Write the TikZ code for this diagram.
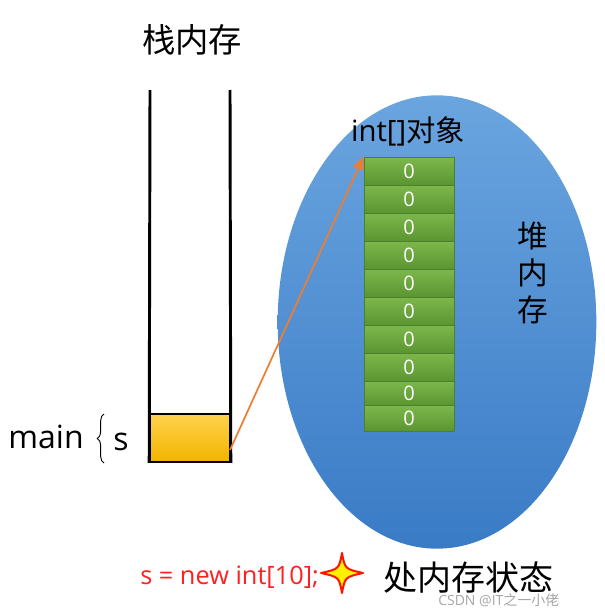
\documentclass[tikz,border=0pt]{standalone}
\usepackage{fontspec}
\setmainfont{Noto Sans CJK SC}
\newfontfamily\latinfont{Open Sans}
\usetikzlibrary{shapes.geometric,arrows.meta,decorations.pathreplacing}
\definecolor{heapTop}{HTML}{6AA5DF}
\definecolor{heapBot}{HTML}{3A7BC6}
\definecolor{cellTop}{HTML}{7DB84C}
\definecolor{cellBot}{HTML}{5A9531}
\definecolor{cellLine}{HTML}{4E7F2C}
\definecolor{boxTop}{HTML}{FFD24A}
\definecolor{boxBot}{HTML}{F2B400}
\definecolor{arrowOrange}{HTML}{ED7D31}
\definecolor{codeRed}{HTML}{FF2020}
\tikzset{
  cell/.style={draw=cellLine, line width=0.6pt, top color=cellTop, bottom color=cellBot,
    minimum width=67.5pt, inner sep=0pt, text=white, font=\latinfont\fontsize{15}{15}\selectfont},
  stackline/.style={line width=2.2pt, black},
  title/.style={font=\fontsize{25}{28}\selectfont, inner sep=0pt}
}
\begin{document}
\begin{tikzpicture}[x=0.75pt,y=-0.75pt]
\useasboundingbox (0,0) rectangle (604,610);
% title
\node[title] (stacktitle) at (192,40) {栈内存};
% heap ellipse
\node[ellipse, inner sep=0pt, minimum width=239pt, minimum height=340pt,
  top color=heapTop, bottom color=heapBot, draw=none] (heap) at (437,322) {};
% heap label
\node[font=\fontsize{23}{27.75}\selectfont, align=center, inner sep=0pt] (heaplabel) at (533,273) {堆\\内\\存};
\node[font=\fontsize{22}{24}\selectfont, inner sep=0pt] (objtitle) at (408,131) {{\latinfont int[]}对象};
% cells
\node[cell, minimum height=21pt] (c0) at (409,171) {0};
\node[cell, minimum height=21pt] (c1) at (409,199) {0};
\node[cell, minimum height=21pt] (c2) at (409,227) {0};
\node[cell, minimum height=21pt] (c3) at (409,255) {0};
\node[cell, minimum height=21pt] (c4) at (409,283) {0};
\node[cell, minimum height=21pt] (c5) at (409,311) {0};
\node[cell, minimum height=21pt] (c6) at (409,339) {0};
\node[cell, minimum height=21pt] (c7) at (409,367) {0};
\node[cell, minimum height=18pt] (c8) at (409,393) {0};
\node[cell, minimum height=19.5pt] (c9) at (409,418) {0};
% stack
\node[draw=black, line width=1.2pt, top color=boxTop, bottom color=boxBot,
  minimum width=60pt, minimum height=36pt, inner sep=0pt] (sbox) at (190,438) {};
\coordinate (stl) at (150,90);
\coordinate (str) at (230,90);
\draw[stackline] (stl) -- (sbox.south west);
\draw[stackline] (str) -- (sbox.south east);
% main { s
\node[font=\latinfont\fontsize{24}{26}\selectfont, inner sep=0pt, anchor=base east] (mainlbl) at (84,448) {main};
\coordinate (bb) at (104,463);
\coordinate (bt) at (104,414);
\draw[line width=0.7pt, decorate, decoration={brace, amplitude=5pt}] (bb) -- (bt);
\node[font=\latinfont\fontsize{24}{26}\selectfont, inner sep=0pt, anchor=base] (slbl) at (121,450) {s};
% arrow
\coordinate (astart) at (230,450);
\draw[arrowOrange, line width=1.3pt, -{Triangle[length=10pt,width=8pt]}] (astart) -- (c0.north west);
% bottom text
\node[font=\latinfont\fontsize{19}{22}\selectfont, text=codeRed, inner sep=0pt, anchor=base west] (code) at (140,584) {s = new int[10];};
\fill[yellow, draw=red!85!orange, line width=1.5pt, line join=round]
  (342,553) .. controls (345,569) .. (363,573)
  .. controls (345,577) .. (342,593)
  .. controls (339,577) .. (321,573)
  .. controls (339,569) .. (342,553) -- cycle;
\node[font=\fontsize{25.5}{28}\selectfont, inner sep=0pt, anchor=west] (state) at (383,578) {处内存状态};
\node[font=\fontsize{10.5}{12}\selectfont, text=black!35, inner sep=0pt, anchor=west] (wm) at (438,600) {{\latinfont CSDN @IT}之一小佬};
\end{tikzpicture}
\end{document}
